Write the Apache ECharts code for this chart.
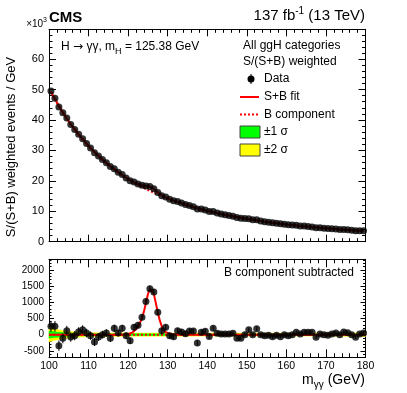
<!DOCTYPE html>
<html><head><meta charset="utf-8">
<script src="https://cdn.jsdelivr.net/npm/echarts@6/dist/echarts.min.js"></script>
<style>html,body{margin:0;padding:0;background:#fff}#c{width:407px;height:393px}</style>
</head><body><div id="c"></div>
<script>
// ---- data ----
const massBins = [100.5,101.5,102.5,103.5,104.5,105.5,106.5,107.5,108.5,109.5,
110.5,111.5,112.5,113.5,114.5,115.5,116.5,117.5,118.5,119.5,
120.5,121.5,122.5,123.5,124.5,125.5,126.5,127.5,128.5,129.5,
130.5,131.5,132.5,133.5,134.5,135.5,136.5,137.5,138.5,139.5,
140.5,141.5,142.5,143.5,144.5,145.5,146.5,147.5,148.5,149.5,
150.5,151.5,152.5,153.5,154.5,155.5,156.5,157.5,158.5,159.5,
160.5,161.5,162.5,163.5,164.5,165.5,166.5,167.5,168.5,169.5,
170.5,171.5,172.5,173.5,174.5,175.5,176.5,177.5,178.5,179.5];
// weighted events / GeV, in units of 10^3
const dataTop = [49.56,47.16,44.26,42.39,40.62,38.53,36.87,35.29,33.85,32.25,
30.77,29.27,28.13,27.00,25.95,24.69,24.00,22.85,22.10,20.97,
20.02,19.63,18.99,18.54,18.33,18.12,17.42,16.20,15.12,14.73,
13.97,13.44,13.17,12.68,12.23,11.91,11.51,10.74,10.72,10.40,
9.95,9.90,9.44,9.12,8.87,8.62,8.39,7.99,7.74,7.60,
7.55,7.20,7.19,6.80,6.57,6.40,6.19,6.06,5.86,5.76,
5.57,5.46,5.39,5.20,5.12,4.99,4.87,4.60,4.58,4.45,
4.32,4.26,4.19,4.04,4.03,3.92,3.77,3.60,3.62,3.57];
// B component of the fit, units of 10^3
const bkgFit = [49.3,46.9,44.6,42.5,40.5,38.6,36.9,35.2,33.7,32.2,
30.8,29.5,28.2,27.0,25.9,24.8,23.8,22.8,21.9,21.0,
20.2,19.4,18.7,18.0,17.3,16.7,16.1,15.5,15.0,14.5,
14.0,13.5,13.05,12.6,12.2,11.8,11.4,11.0,10.65,10.3,
10.0,9.7,9.4,9.1,8.85,8.6,8.35,8.1,7.85,7.6,
7.4,7.2,7.0,6.8,6.6,6.42,6.25,6.08,5.92,5.76,
5.6,5.46,5.32,5.18,5.05,4.92,4.8,4.68,4.56,4.45,
4.34,4.24,4.14,4.04,3.95,3.86,3.77,3.68,3.6,3.52];
// B component subtracted
const residual = [257,257,-340,-113,123,-72,-31,93,154,51,
-31,-226,-72,0,51,-113,195,51,195,-31,
-185,226,288,535,1029,1420,1320,695,123,226,
-35,-65,123,80,30,110,110,-257,72,103,
-55,200,41,21,21,21,41,-108,-108,0,
150,0,185,0,-31,-21,-62,-21,-62,0,
-31,0,72,21,72,72,72,-82,21,0,
-21,21,51,0,82,62,0,-82,21,51];
const residualErr = [170,165,160,155,150,146,142,138,135,132,
128,125,122,120,117,115,112,110,108,106,
104,102,100,98,97,95,93,92,90,89,
88,86,85,84,82,81,80,79,78,77,
76,75,74,73,72,71,70,69,68,68,
67,66,65,65,64,63,63,62,61,61,
60,60,59,59,58,58,57,57,56,56,
55,55,55,54,54,53,53,53,52,52];
// signal component (S+B fit minus B)
const sigMass = [100,118,119,119.5,120,120.5,121,121.5,122,122.5,123,123.5,124,124.5,125,125.5,126,126.5,127,127.5,128,128.5,129,129.5,130,130.5,131,131.5,132,133,180];
const sigVal  = [0,0,8,15,25,40,60,100,165,255,370,510,720,980,1250,1420,1430,1260,980,690,440,260,145,80,45,28,15,9,5,0,0];
// uncertainty bands of the B component (half widths)
const bandMass = [100,102,104,106,108,110,115,120,130,140,150,160,170,175,178,180];
const band1 = [110,80,56,44,36,31,27,25,24,22,21,21,22,24,26,28];
const band2 = [220,160,112,88,72,62,54,50,48,45,43,43,45,50,54,58];
const xTicks = [100,110,120,130,140,150,160,170,180];

// ---- build ----
const FONT = 'Liberation Sans, Arial, Helvetica, sans-serif';
const sigAt = x => { const i = sigMass.indexOf(x); return i >= 0 ? sigVal[i] : 0; };
const topData = massBins.map((m, i) => [m, dataTop[i]]);
const topB = massBins.map((m, i) => [m, bkgFit[i]]);
const topSB = massBins.map((m, i) => [m, bkgFit[i] + sigAt(m) / 1000]);
const botData = massBins.map((m, i) => [m, residual[i], residualErr[i]]);
const sigLine = sigMass.map((m, i) => [m, sigVal[i]]);
const bandSeg = w => bandMass.slice(0, -1).map((m, i) => [m, bandMass[i+1], w[i], w[i+1]]);

function bandSeries(w, color) {
  return {type:'custom', xAxisIndex:2, yAxisIndex:4, z:1, data:bandSeg(w), encode:{x:[0,1], y:[2,3]},
    renderItem:(params, api) => {
      const x0 = api.value(0), x1 = api.value(1), a = api.value(2), b = api.value(3);
      const pts = [api.coord([x0, a]), api.coord([x1, b]), api.coord([x1, -b]), api.coord([x0, -a])];
      return {type:'polygon', shape:{points:pts}, style:{fill:color, stroke:color, lineWidth:0.5}};
    }};
}
function xAx(grid, pos, labels, major, minor) {
  return {type:'value', gridIndex:grid, position:pos, min:xTicks[0], max:xTicks[xTicks.length-1], interval:10,
    axisLine:{onZero:false, lineStyle:{color:'#000', width:1}},
    axisTick:{inside:true, length:major, lineStyle:{color:'#000'}},
    minorTick:{show:true, splitNumber:5, length:minor, lineStyle:{color:'#000'}},
    axisLabel:{show:labels, color:'#000', fontSize:10.5, fontFamily:FONT, margin:3},
    splitLine:{show:false}};
}
function yAx(grid, pos, min, max, interval, tickLen, showLine, labels, fs, showMin) {
  const a = {type:'value', gridIndex:grid, position:pos, min:min, max:max,
    axisLine:{show:showLine, onZero:false, lineStyle:{color:'#000', width:1}},
    axisTick:{inside:true, length:tickLen, lineStyle:{color:'#000'}},
    axisLabel:{show:labels, color:'#000', fontSize:fs, fontFamily:FONT, margin:5,
      showMinLabel:!!showMin, showMaxLabel:false, formatter:v => String(v)},
    splitLine:{show:false}};
  if (interval) a.interval = interval;
  return a;
}

const option = {
  animation:false,
  backgroundColor:'#fff',
  grid:[
    {left:49, right:41.5, top:29.3, height:212.4, containLabel:false},
    {left:49, right:41.5, top:259.3, height:98, containLabel:false}
  ],
  xAxis:[
    xAx(0,'bottom',false,7,3.5),
    xAx(0,'top',false,7,3.5),
    xAx(1,'bottom',true,8,4),
    xAx(1,'top',false,8,4)
  ],
  yAxis:[
    yAx(0,'left',0,69.8,10,7,true,true,11,true),
    yAx(0,'left',0,69.8,2,3.5,false,false,11),
    yAx(0,'right',0,69.8,10,7,true,false,11),
    yAx(0,'right',0,69.8,2,3.5,false,false,11),
    yAx(1,'left',-700,2330,null,5,true,true,10,false),
    yAx(1,'left',-700,2330,100,2.5,false,false,10),
    yAx(1,'right',-700,2330,null,5,true,false,10),
    yAx(1,'right',-700,2330,100,2.5,false,false,10)
  ],
  series:[
    // top panel
    {type:'line', xAxisIndex:0, yAxisIndex:0, data:topB, symbol:'none', z:2,
      lineStyle:{color:'#ff0000', width:2, type:[2,2]}},
    {type:'line', xAxisIndex:0, yAxisIndex:0, data:topSB, symbol:'none', z:3,
      lineStyle:{color:'#ff0000', width:2}},
    {type:'scatter', xAxisIndex:0, yAxisIndex:0, data:topData, symbol:'circle', symbolSize:7, z:4,
      itemStyle:{color:'#000'}},
    // bottom panel
    bandSeries(band2, '#ffff00'),
    bandSeries(band1, '#00ff00'),
    {type:'line', xAxisIndex:2, yAxisIndex:4, data:[[xTicks[0],0],[xTicks[xTicks.length-1],0]], symbol:'none', z:2,
      lineStyle:{color:'#ff0000', width:2, type:[2,2]}},
    {type:'line', xAxisIndex:2, yAxisIndex:4, data:sigLine, symbol:'none', z:3,
      lineStyle:{color:'#ff0000', width:2}},
    {type:'custom', xAxisIndex:2, yAxisIndex:4, data:botData, z:4, encode:{x:0, y:1},
      renderItem:(params, api) => {
        const x = api.value(0), y = api.value(1), e = api.value(2);
        const p1 = api.coord([x, y - e]), p2 = api.coord([x, y + e]);
        return {type:'line', shape:{x1:p1[0], y1:p1[1], x2:p2[0], y2:p2[1]}, style:{stroke:'#000', lineWidth:1}};
      }},
    {type:'scatter', xAxisIndex:2, yAxisIndex:4, data:botData.map(d=>[d[0],d[1]]), symbol:'circle', symbolSize:7, z:5,
      itemStyle:{color:'#000'}}
  ],
  graphic:[
    {type:'text', x:49, y:18, style:{text:'CMS', font:'bold 15px '+FONT, fill:'#000', verticalAlign:'middle', align:'left'}},
    {type:'text', x:47, y:24, style:{text:'×10{s|3}', font:'10px '+FONT, fill:'#000', verticalAlign:'middle', align:'right',
      lineHeight:14, rich:{s:{fontSize:7, fontFamily:FONT, verticalAlign:'top', lineHeight:8}}}},
    {type:'text', x:365, y:16, style:{text:'137 fb{s|-1} (13 TeV)', font:'15px '+FONT, fill:'#000', verticalAlign:'middle', align:'right',
      lineHeight:20, rich:{s:{fontSize:10, fontFamily:FONT, verticalAlign:'top', lineHeight:10}}}},
    {type:'text', x:61, y:47, style:{text:'H {a|→} γγ, m{s|H} = 125.38 GeV', font:'12px '+FONT, fill:'#000', verticalAlign:'middle', align:'left',
      lineHeight:18, rich:{s:{fontSize:9, fontFamily:FONT, verticalAlign:'bottom', lineHeight:9},
                           a:{fontSize:12, fontFamily:'DejaVu Sans', lineHeight:18}}}},
    {type:'text', x:243, y:46, style:{text:'All ggH categories', font:'12px '+FONT, fill:'#000', verticalAlign:'middle'}},
    {type:'text', x:243, y:62, style:{text:'S/(S+B) weighted', font:'12px '+FONT, fill:'#000', verticalAlign:'middle'}},
    {type:'line', shape:{x1:251, y1:74, x2:251, y2:84}, style:{stroke:'#000', lineWidth:1}},
    {type:'circle', shape:{cx:251, cy:79, r:3.5}, style:{fill:'#000'}},
    {type:'text', x:264, y:79, style:{text:'Data', font:'12px '+FONT, fill:'#000', verticalAlign:'middle'}},
    {type:'line', shape:{x1:240, y1:97, x2:259, y2:97}, style:{stroke:'#ff0000', lineWidth:2}},
    {type:'text', x:264, y:97, style:{text:'S+B fit', font:'12px '+FONT, fill:'#000', verticalAlign:'middle'}},
    {type:'line', shape:{x1:240, y1:114.5, x2:259, y2:114.5}, style:{stroke:'#ff0000', lineWidth:2, lineDash:[2,2]}},
    {type:'text', x:264, y:114.5, style:{text:'B component', font:'12px '+FONT, fill:'#000', verticalAlign:'middle'}},
    {type:'rect', shape:{x:240, y:126, width:20, height:12}, style:{fill:'#00ff00', stroke:'#444', lineWidth:1}},
    {type:'text', x:264, y:132, style:{text:'±1 σ', font:'12px '+FONT, fill:'#000', verticalAlign:'middle'}},
    {type:'rect', shape:{x:240, y:144, width:20, height:12}, style:{fill:'#ffff00', stroke:'#444', lineWidth:1}},
    {type:'text', x:264, y:150, style:{text:'±2 σ', font:'12px '+FONT, fill:'#000', verticalAlign:'middle'}},
    {type:'text', x:354, y:273, style:{text:'B component subtracted', font:'12px '+FONT, fill:'#000', verticalAlign:'middle', align:'right'}},
    {type:'text', x:365, y:380, style:{text:'m{s|γγ} (GeV)', font:'14px '+FONT, fill:'#000', verticalAlign:'middle', align:'right',
      lineHeight:20, rich:{s:{fontSize:10, fontFamily:FONT, verticalAlign:'bottom', lineHeight:12}}}},
    {type:'text', x:11, y:147, rotation:Math.PI/2, style:{text:'S/(S+B) weighted events / GeV', font:'13px '+FONT, fill:'#000', verticalAlign:'middle', align:'center'}}
  ]
};
const chart = echarts.init(document.getElementById('c'), null, {renderer:'canvas'});
chart.setOption(option);
</script>
</body></html>
